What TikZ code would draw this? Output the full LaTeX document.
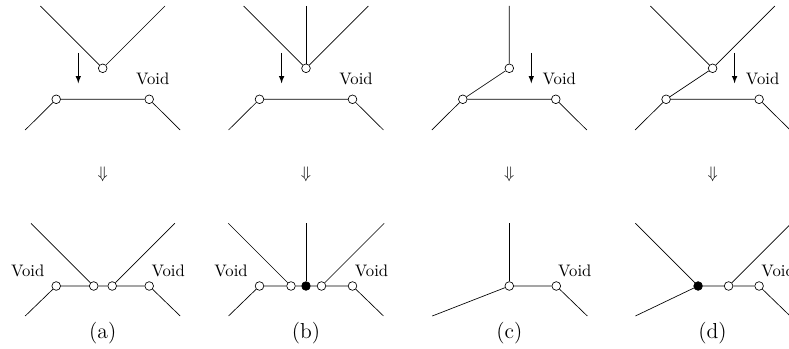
\documentclass[tikz,border=0pt]{standalone}
\usepackage{amsmath}
\usepackage{amssymb}
\usepackage{tikz}

\begin{document}
\begin{tikzpicture}[x=0.6pt, y=0.6pt,
		joint/.style={circle, draw, inner sep=0pt, minimum size=5.2pt},
		fixed/.style={circle, draw, fill=black, inner sep=0pt, minimum size=5.2pt},
		move/.style={-latex, line width=0.5pt},
		lbl/.style={font=\fontsize{13}{15}\selectfont}]
			
			\useasboundingbox (0,0) rectangle (789,349);
			\clip (0,0) rectangle (789,349);
			
			% PANEL A
			\begin{scope}[shift={(102.7,0)}]
			\node[joint] (aT) at (0,280.7) {};
			\coordinate (aT1) at (-62.3,343);
			\coordinate (aT2) at (62.3,343);
			\draw (aT1) -- (aT) -- (aT2);
			\node[joint] (aB1) at (-46.5,249.7) {};
			\node[joint] (aB2) at (46.5,249.7) {};
			\coordinate (aL1) at (-77.5,219);
			\coordinate (aL2) at (77.5,219);
			\draw (aL1) -- (aB1) -- (aB2) -- (aL2);
			\coordinate (aA1) at (-24.4,296);
			\coordinate (aA2) at (-24.4,265.7);
			\draw[move] (aA1) -- (aA2);
			\node (aV) at (50,270) {Void};
			\node (aD) at (0,175) {$\Downarrow$};
			% result
			\node[joint] (aR1) at (-46.5,63) {};
			\node[joint] (aR2) at (-9,63) {};
			\node[joint] (aR3) at (9.5,63) {};
			\node[joint] (aR4) at (46.5,63) {};
			\coordinate (aU1) at (-71.7,125.7);
			\coordinate (aU2) at (72.2,125.7);
			\coordinate (aE1) at (-77.5,33);
			\coordinate (aE2) at (77.5,33);
			\draw (aE1) -- (aR1) -- (aR2) -- (aR3) -- (aR4) -- (aE2);
			\draw (aU1) -- (aR2);
			\draw (aR3) -- (aU2);
			\node (aV1) at (-75,78.3) {Void};
			\node (aV2) at (65.5,78.3) {Void};
			\node[lbl] (aN) at (0,15.7) {(a)};
			\end{scope}
			
			% PANEL B
			\begin{scope}[shift={(306,0)}]
			\node[joint] (bT) at (0,280.7) {};
			\coordinate (bT1) at (-62.3,343);
			\coordinate (bT2) at (62.3,343);
			\coordinate (bT3) at (0,343);
			\draw (bT1) -- (bT) -- (bT2);
			\draw (bT3) -- (bT);
			\node[joint] (bB1) at (-46.5,249.7) {};
			\node[joint] (bB2) at (46.5,249.7) {};
			\coordinate (bL1) at (-77.5,219);
			\coordinate (bL2) at (77.5,219);
			\draw (bL1) -- (bB1) -- (bB2) -- (bL2);
			\coordinate (bA1) at (-24.4,296);
			\coordinate (bA2) at (-24.4,265.7);
			\draw[move] (bA1) -- (bA2);
			\node (bV) at (50,270) {Void};
			\node (bD) at (0,175) {$\Downarrow$};
			% result
			\node[joint] (bR1) at (-46.5,63) {};
			\node[joint] (bR2) at (-15,63) {};
			\node[fixed] (bR3) at (0,63) {};
			\node[joint] (bR4) at (15.5,63) {};
			\node[joint] (bR5) at (46.5,63) {};
			\coordinate (bU1) at (-77.7,125.7);
			\coordinate (bU2) at (78.2,125.7);
			\coordinate (bU3) at (0,125.7);
			\coordinate (bE1) at (-77.5,33);
			\coordinate (bE2) at (77.5,33);
			\draw (bE1) -- (bR1) -- (bR2) -- (bR3) -- (bR4) -- (bR5) -- (bE2);
			\draw (bU1) -- (bR2);
			\draw (bR4) -- (bU2);
			\draw (bU3) -- (bR3);
			\node (bV1) at (-75,78.3) {Void};
			\node (bV2) at (65.5,78.3) {Void};
			\node[lbl] (bN) at (0,15.7) {(b)};
			\end{scope}
			
			% PANEL C
			\begin{scope}[shift={(509.3,0)}]
			\node[joint] (cT) at (0,280.7) {};
			\coordinate (cT1) at (0,343);
			\node[joint] (cB1) at (-46.5,249.7) {};
			\node[joint] (cB2) at (46.5,249.7) {};
			\coordinate (cL1) at (-77.5,219);
			\coordinate (cL2) at (77.5,219);
			\draw (cT1) -- (cT) -- (cB1);
			\draw (cL1) -- (cB1) -- (cB2) -- (cL2);
			\coordinate (cA1) at (22,296);
			\coordinate (cA2) at (22,265.7);
			\draw[move] (cA1) -- (cA2);
			\node (cV) at (50,270) {Void};
			\node (cD) at (0,175) {$\Downarrow$};
			% result
			\node[joint] (cR1) at (0,63) {};
			\node[joint] (cR2) at (47,63) {};
			\coordinate (cU1) at (0,125.7);
			\coordinate (cE1) at (-77,33);
			\coordinate (cE2) at (78,33);
			\draw (cU1) -- (cR1);
			\draw (cE1) -- (cR1) -- (cR2) -- (cE2);
			\node (cV1) at (65.5,78.3) {Void};
			\node[lbl] (cN) at (0,15.7) {(c)};
			\end{scope}
			
			% PANEL D
			\begin{scope}[shift={(712.6,0)}]
			\node[joint] (dT) at (0,280.7) {};
			\coordinate (dT1) at (-62.3,343);
			\coordinate (dT2) at (62.3,343);
			\node[joint] (dB1) at (-46.5,249.7) {};
			\node[joint] (dB2) at (46.5,249.7) {};
			\coordinate (dL1) at (-77.5,219);
			\coordinate (dL2) at (77.5,219);
			\draw (dT1) -- (dT) -- (dT2);
			\draw (dT) -- (dB1);
			\draw (dL1) -- (dB1) -- (dB2) -- (dL2);
			\coordinate (dA1) at (22,296);
			\coordinate (dA2) at (22,265.7);
			\draw[move] (dA1) -- (dA2);
			\node (dV) at (50,270) {Void};
			\node (dD) at (0,175) {$\Downarrow$};
			% result
			\node[fixed] (dR1) at (-14.5,63) {};
			\node[joint] (dR2) at (16,63) {};
			\node[joint] (dR3) at (46.5,63) {};
			\coordinate (dU1) at (-77.2,125.7);
			\coordinate (dU2) at (78.7,125.7);
			\coordinate (dE1) at (-77.2,33);
			\coordinate (dE2) at (77.5,33);
			\draw (dU1) -- (dR1);
			\draw (dE1) -- (dR1) -- (dR2) -- (dR3) -- (dE2);
			\draw (dR2) -- (dU2);
			\node (dV1) at (65.5,78.3) {Void};
			\node[lbl] (dN) at (0,15.7) {(d)};
			\end{scope}
			
		\end{tikzpicture}
\end{document}
